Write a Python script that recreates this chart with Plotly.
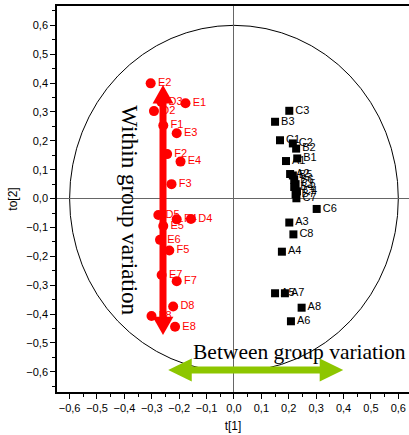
import plotly.graph_objects as go

# Score values: t[1] (predictive) and to[2] (orthogonal)
red_labels = ["E2", "D2", "D3", "E1", "F1", "E3", "F2", "E4", "F3", "D5",
              "F4", "D4", "E5", "E6", "F5", "E7", "F7", "D8", "F8", "E8"]
red_t1 = [-0.304, -0.292, -0.265, -0.177, -0.258, -0.209, -0.244, -0.195, -0.228, -0.276,
          -0.209, -0.157, -0.258, -0.270, -0.236, -0.264, -0.209, -0.222, -0.301, -0.215]
red_to2 = [0.399, 0.303, 0.335, 0.330, 0.253, 0.226, 0.154, 0.128, 0.050, -0.057,
           -0.072, -0.071, -0.095, -0.143, -0.180, -0.265, -0.286, -0.374, -0.407, -0.444]

black_labels = ["C3", "B3", "C1", "C2", "B2", "B1", "A1", "A2", "B5", "B6",
                "C5", "B4", "C4", "B7", "C7", "C6", "A3", "C8", "A4", "A5",
                "A7", "A8", "A6"]
black_t1 = [0.202, 0.150, 0.168, 0.215, 0.227, 0.231, 0.190, 0.205, 0.215, 0.220,
            0.225, 0.220, 0.230, 0.225, 0.228, 0.302, 0.202, 0.217, 0.175, 0.150,
            0.186, 0.247, 0.208]
black_to2 = [0.304, 0.266, 0.202, 0.191, 0.173, 0.139, 0.130, 0.085, 0.080, 0.065,
             0.050, 0.040, 0.025, 0.015, 0.001, -0.036, -0.083, -0.124, -0.184, -0.328,
             -0.328, -0.378, -0.425]

x_ticks = [-0.6, -0.5, -0.4, -0.3, -0.2, -0.1, 0.0, 0.1, 0.2, 0.3, 0.4, 0.5, 0.6]
y_ticks = [-0.6, -0.5, -0.4, -0.3, -0.2, -0.1, 0.0, 0.1, 0.2, 0.3, 0.4, 0.5, 0.6]

ellipse_radius = 0.6

# Arrow extents (data units)
within_x = -0.259
within_top, within_bottom = 0.393, -0.473
between_y = -0.594
between_left, between_right = -0.240, 0.399

RED = "#ff0000"
GREEN = "#8dc600"

fig = go.Figure()

fig.add_trace(go.Scatter(
    x=black_t1, y=black_to2, text=black_labels, mode="markers+text",
    textposition="middle right",
    marker=dict(symbol="square", size=8, color="black"),
    textfont=dict(family="Liberation Sans", size=11, color="black"),
    hoverinfo="text", showlegend=False,
))
fig.add_trace(go.Scatter(
    x=red_t1, y=red_to2, text=red_labels, mode="markers+text",
    textposition="middle right",
    marker=dict(symbol="circle", size=10, color=RED),
    textfont=dict(family="Liberation Sans", size=11, color=RED),
    hoverinfo="text", showlegend=False,
))

# Within-group (vertical) double arrow
head_h, head_w = 0.064, 0.038
fig.add_trace(go.Scatter(
    x=[within_x, within_x], y=[within_bottom + head_h * 0.9, within_top - head_h * 0.9],
    mode="lines", line=dict(color=RED, width=7), hoverinfo="skip", showlegend=False,
))
for tip, sgn in ((within_top, -1), (within_bottom, 1)):
    fig.add_trace(go.Scatter(
        x=[within_x, within_x - head_w, within_x + head_w, within_x],
        y=[tip, tip + sgn * head_h, tip + sgn * head_h, tip],
        mode="lines", fill="toself", fillcolor=RED, line=dict(color=RED, width=0),
        hoverinfo="skip", showlegend=False,
    ))

# Between-group (horizontal) double arrow
hl, hh = 0.086, 0.040
fig.add_trace(go.Scatter(
    x=[between_left + hl * 0.9, between_right - hl * 0.9], y=[between_y, between_y],
    mode="lines", line=dict(color=GREEN, width=7), hoverinfo="skip", showlegend=False,
))
for tip, sgn in ((between_left, 1), (between_right, -1)):
    fig.add_trace(go.Scatter(
        x=[tip, tip + sgn * hl, tip + sgn * hl, tip],
        y=[between_y, between_y + hh, between_y - hh, between_y],
        mode="lines", fill="toself", fillcolor=GREEN, line=dict(color=GREEN, width=0),
        hoverinfo="skip", showlegend=False,
    ))

fig.add_shape(type="circle", xref="x", yref="y",
              x0=-ellipse_radius, y0=-ellipse_radius, x1=ellipse_radius, y1=ellipse_radius,
              line=dict(color="black", width=1), layer="below")

fig.add_annotation(x=-0.380, y=-0.040, xref="x", yref="y", text="Within group variation",
                   textangle=90, showarrow=False,
                   font=dict(family="Liberation Serif", size=23, color="black"))
fig.add_annotation(x=0.238, y=-0.532, xref="x", yref="y", text="Between group variation",
                   showarrow=False,
                   font=dict(family="Liberation Serif", size=21.5, color="black"))

axis_common = dict(
    showgrid=False, zeroline=True, zerolinecolor="#666666", zerolinewidth=1,
    showline=True, linecolor="black", linewidth=1.5,
    ticks="outside", ticklen=5, tickcolor="black", tickwidth=1,
    tickformat=".1f",
    tickfont=dict(family="Liberation Sans", size=11, color="black"),
    minor=dict(ticks="outside", ticklen=3, tickcolor="black", dtick=0.05),
)

fig.update_layout(
    width=409, height=435,
    margin=dict(l=57, r=0, t=6, b=43),
    paper_bgcolor="white", plot_bgcolor="white",
    separators=", ",
    xaxis=dict(range=[-0.646, 0.639], tickvals=x_ticks, mirror=True,
               title=dict(text="t[1]", font=dict(family="Liberation Sans", size=12, color="black"),
                          standoff=9),
               **axis_common),
    yaxis=dict(range=[-0.670, 0.667], tickvals=y_ticks,
               title=dict(text="to[2]", font=dict(family="Liberation Sans", size=12, color="black"),
                          standoff=6),
               **axis_common),
)

fig.write_html("out.html")
